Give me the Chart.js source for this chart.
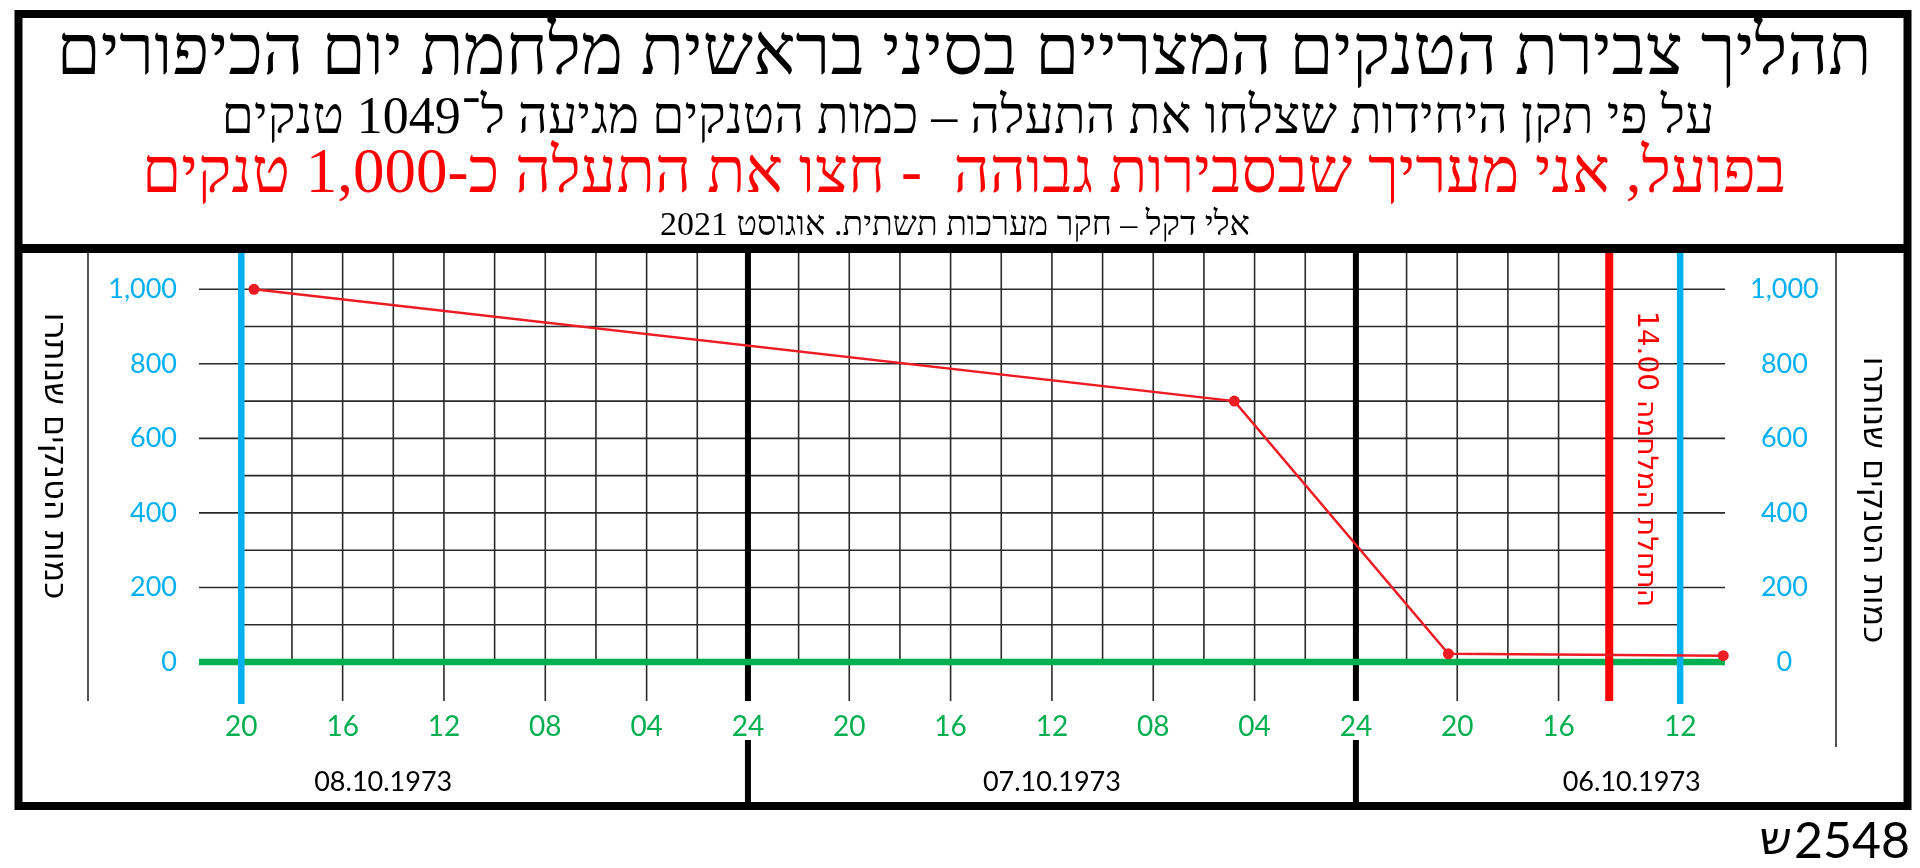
<!DOCTYPE html>
<html lang="he">
<head>
<meta charset="utf-8">
<title>צבירת הטנקים המצריים בסיני</title>
<script src="https://cdn.jsdelivr.net/npm/chart.js@4.4.1/dist/chart.umd.min.js"></script>
<style>
  html, body { margin: 0; padding: 0; background: #fff; }
  #wrap { width: 1920px; height: 868px; }
</style>
</head>
<body>
<div id="wrap"><canvas id="tanksChart"></canvas></div>
<script>
// hours are counted from 06.10.1973 00:00, the axis runs right to left
const hours = [67.5, 28.8, 20.35, 9.5];
const tanks = [1000, 700, 22, 17];

const hourTicks = [68, 64, 60, 56, 52, 48, 44, 40, 36, 32, 28, 24, 20, 16, 11.2];
const hourLabels = ['20', '16', '12', '08', '04', '24', '20', '16', '12', '08', '04', '24', '20', '16', '12'];
const tankTicks = [0, 200, 400, 600, 800, 1000];

const dayEdges = [48, 24];
const dayLabels = ['08.10.1973', '07.10.1973', '06.10.1973'];
const warStart = 14;
const blueMarks = [68, 11.2];

const titleLines = [
  'תהליך צבירת הטנקים המצריים בסיני בראשית מלחמת יום הכיפורים',
  'על פי תקן היחידות שצלחו את התעלה – כמות הטנקים מגיעה ל־1049 טנקים',
  'בפועל, אני מעריך שבסבירות גבוהה  - חצו את התעלה כ-1,000 טנקים',
  'אלי דקל – חקר מערכות תשתית. אוגוסט 2021'
];
const axisTitle = 'כמות הטנקים שנותרו';
const warLabel = 'התחלת המלחמה 14.00';
const docNumber = '2548';
const docLetter = 'ש';

const GREEN = '#00b050';
const BLUE = '#00b0f0';
const RED = '#ff0000';
const frame = { left: 18.5, top: 14, right: 1907.5, bottom: 806, divider: 248.5 };

function seg(ctx, x1, y1, x2, y2) {
  ctx.beginPath();
  ctx.moveTo(x1, y1);
  ctx.lineTo(x2, y2);
  ctx.stroke();
}

function txt(ctx, s, x, y, font, color, rotate, align) {
  ctx.save();
  ctx.translate(x, y);
  if (rotate) ctx.rotate(Math.PI / 2);
  ctx.font = font;
  ctx.fillStyle = color;
  ctx.direction = 'ltr';
  ctx.textAlign = align || 'center';
  ctx.textBaseline = 'middle';
  ctx.fillText(s, 0, 0);
  ctx.restore();
}

const sheet = {
  id: 'sheet',
  beforeDatasetsDraw(chart) {
    const { ctx, chartArea: a, scales: { x, y } } = chart;
    const y0 = y.getPixelForValue(0);
    const tickEnd = y0 + 39;
    ctx.save();
    ctx.strokeStyle = '#2a2a2a';
    ctx.lineWidth = 1.6;

    // minor horizontal lines (every 100)
    for (let v = 100; v <= 1100; v += 200) {
      const py = y.getPixelForValue(v);
      const end = v === 100 ? x.getPixelForValue(blueMarks[1]) : x.getPixelForValue(warStart);
      seg(ctx, x.getPixelForValue(blueMarks[0]), py, end, py);
    }
    // major horizontal lines
    tankTicks.slice(1).forEach(v => {
      const py = y.getPixelForValue(v);
      seg(ctx, a.left, py, a.right, py);
    });
    // vertical lines every 2 hours, the labelled ones run down as ticks
    for (let h = 66; h >= 16; h -= 2) {
      if (dayEdges.includes(h)) continue;
      const px = x.getPixelForValue(h);
      seg(ctx, px, a.top, px, h % 4 === 0 ? tickEnd : y0);
    }
    // thin side rules
    seg(ctx, 88, a.top, 88, tickEnd);
    seg(ctx, 1836, a.top, 1836, 747);

    // day separators
    ctx.strokeStyle = '#000';
    ctx.lineWidth = 6;
    dayEdges.forEach(h => {
      const px = x.getPixelForValue(h);
      seg(ctx, px, a.top, px, tickEnd);
      seg(ctx, px, 740, px, frame.bottom);
    });

    // zero line
    ctx.strokeStyle = GREEN;
    ctx.lineWidth = 6.5;
    seg(ctx, a.left, y0, a.right, y0);

    // blue limits and red war start
    ctx.strokeStyle = BLUE;
    blueMarks.forEach(h => {
      const px = x.getPixelForValue(h);
      seg(ctx, px, a.top, px, y0 + 42);
    });
    ctx.strokeStyle = RED;
    ctx.lineWidth = 8;
    const pr = x.getPixelForValue(warStart);
    seg(ctx, pr, a.top, pr, tickEnd);
    ctx.restore();

    txt(ctx, warLabel, pr + 36, 459, '28px "DejaVu Sans"', RED, true);
  },
  afterDraw(chart) {
    const { ctx, scales: { x } } = chart;
    ctx.save();
    ctx.strokeStyle = '#000';
    ctx.lineWidth = 8;
    ctx.strokeRect(frame.left, frame.top, frame.right - frame.left, frame.bottom - frame.top);
    ctx.lineWidth = 9;
    seg(ctx, frame.left, frame.divider, frame.right, frame.divider);
    ctx.restore();

    txt(ctx, titleLines[0], 964, 55, '71px "Liberation Serif"', '#000');
    txt(ctx, titleLines[1], 968, 119, '52px "Liberation Serif"', '#000');
    txt(ctx, titleLines[2], 964, 175, '63px "Liberation Serif"', RED);
    txt(ctx, titleLines[3], 955, 226, '34px "Liberation Serif"', '#000');

    const edges = [frame.left, ...dayEdges.map(h => x.getPixelForValue(h)), frame.right];
    dayLabels.forEach((d, i) => {
      txt(ctx, d, (edges[i] + edges[i + 1]) / 2, 782, '27px Lato', '#000');
    });

    txt(ctx, axisTitle, 53, 456, '32px "DejaVu Sans"', '#000', true);
    txt(ctx, axisTitle, 1872, 500, '32px "DejaVu Sans"', '#000', true);

    ctx.save();
    ctx.font = '50px Lato';
    const numW = ctx.measureText(docNumber).width;
    ctx.restore();
    txt(ctx, docNumber, 1910, 842, '50px Lato', '#000', false, 'right');
    txt(ctx, docLetter, 1908 - numW, 842, '46px "DejaVu Sans"', '#000', false, 'right');
  }
};

const tankAxis = (side, width, extra) => ({
  position: side,
  min: 0,
  max: 1100,
  grid: { display: false, drawTicks: false },
  border: { display: false },
  afterBuildTicks: s => { s.ticks = tankTicks.map(v => ({ value: v })); },
  afterFit: s => { s.width = width; },
  ticks: Object.assign({
    color: BLUE,
    font: { family: 'Lato', size: 27 },
    callback: v => v.toLocaleString('en-US')
  }, extra)
});

new Chart(document.getElementById('tanksChart'), {
  type: 'line',
  data: {
    datasets: [{
      data: hours.map((h, i) => ({ x: h, y: tanks[i] })),
      borderColor: '#ed1c24',
      borderWidth: 2.5,
      pointRadius: 5.5,
      pointBackgroundColor: '#ed1c24',
      pointBorderWidth: 0,
      clip: false
    }]
  },
  options: {
    responsive: true,
    maintainAspectRatio: false,
    animation: false,
    layout: { padding: { top: 252, left: 0, right: 0, bottom: 0 } },
    plugins: {
      legend: { display: false },
      tooltip: { enabled: false }
    },
    scales: {
      x: {
        type: 'linear',
        reverse: true,
        min: 9.43,
        max: 69.67,
        grid: { display: false, drawTicks: false },
        border: { display: false },
        afterBuildTicks: s => { s.ticks = hourTicks.map(v => ({ value: v })); },
        afterFit: s => { s.height = 206; },
        ticks: {
          color: GREEN,
          font: { family: 'Lato', size: 28 },
          padding: 48,
          autoSkip: false,
          maxRotation: 0,
          callback: v => hourLabels[hourTicks.indexOf(v)]
        }
      },
      y: tankAxis('left', 199, { padding: 22 }),
      y2: tankAxis('right', 195, { padding: 25, crossAlign: 'center' })
    }
  },
  plugins: [sheet]
});
</script>
</body>
</html>
